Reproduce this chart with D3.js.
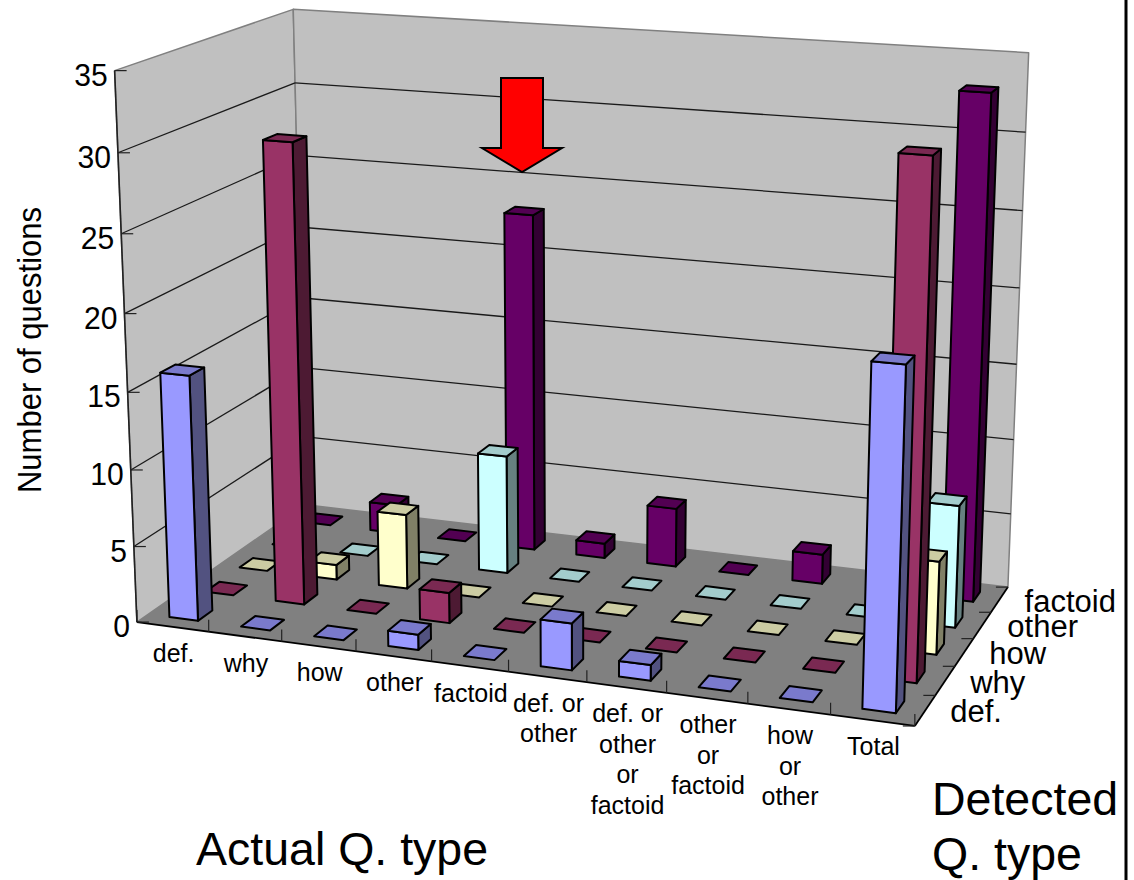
<!DOCTYPE html>
<html>
<head>
<meta charset="utf-8">
<script src="https://cdn.jsdelivr.net/npm/d3@7"></script>
<style>
  html, body { margin: 0; background: #fff; }
  svg { display: block; }
  text { font-family: "Liberation Sans", Arial, sans-serif; fill: #000; }
</style>
</head>
<body>
<div id="chart"></div>
<script>
// Chart data.
const actualTypes = [
    ['def.'], ['why'], ['how'], ['other'], ['factoid'],
    ['def. or', 'other'], ['def. or', 'other', 'or', 'factoid'],
    ['other', 'or', 'factoid'], ['how', 'or', 'other'], ['Total']
];
const detectedTypes = ['def.', 'why', 'how', 'other', 'factoid'];
const defValues = [16, 0, 0, 1, 0, 3, 1, 0, 0, 21];
const whyValues = [0, 30, 0, 2, 0, 0, 0, 0, 0, 32];
const howValues = [0, 1, 5, 0, 0, 0, 0, 0, 0, 6];
const otherValues = [0, 0, 0, 8, 0, 0, 0, 0, 0, 8];
const factoidValues = [0, 2, 0, 23, 1, 4, 0, 2, 1, 33];
const seriesValues = [defValues, whyValues, howValues, otherValues, factoidValues];
const yTicks = [0, 5, 10, 15, 20, 25, 30, 35];

// Face colours per series: front, top, side.
const seriesColours = [
    ['#9999ff', '#7a7acc', '#525280'],
    ['#993366', '#7a2952', '#4d1a33'],
    ['#ffffcc', '#ccccA3', '#808066'],
    ['#ccffff', '#a3cccc', '#668080'],
    ['#660066', '#520052', '#330033']
];

const width = 1134, height = 880;
const svg = d3.select('#chart').append('svg').attr('width', width).attr('height', height);

// Unit scales for the three chart directions; gap width 150% on both band scales.
const x = d3.scaleBand().domain(d3.range(actualTypes.length)).range([0, 1]).paddingInner(0.6).paddingOuter(0.3);
const z = d3.scaleBand().domain(d3.range(detectedTypes.length)).range([0, 1]).paddingInner(0.6).paddingOuter(0.3);
const y = d3.scaleLinear().domain([0, 35]).range([0, 1]);

// D3 has no 3D projection, so fit one from where the chart box sits on the page.
const anchors = [
    [0, 0, 0, 137, 622], [1, 0, 0, 915, 726], [1, 1, 0, 1008, 587], [0, 1, 0, 305, 505],
    [0, 0, 1, 114, 71], [0, 1, 1, 293, 9], [1, 1, 1, 1029, 52],
    [0, 0, 15 / 35, 128, 392], [1, 1, 30 / 35, 1025, 133], [0, 1, 30 / 35, 296, 83]
];

function fitProjection(points) {
    const rows = [], rhs = [];
    points.forEach(([a, b, c, px, py]) => {
        rows.push([a, b, c, 1, 0, 0, 0, 0, -px * a, -px * b, -px * c]); rhs.push(px);
        rows.push([0, 0, 0, 0, a, b, c, 1, -py * a, -py * b, -py * c]); rhs.push(py);
    });
    const n = 11;
    const m = d3.range(n).map(i => d3.range(n).map(j => d3.sum(rows, r => r[i] * r[j])).concat(d3.sum(rows, (r, k) => r[i] * rhs[k])));
    for (let i = 0; i < n; i++) {
        let best = i;
        for (let k = i + 1; k < n; k++) if (Math.abs(m[k][i]) > Math.abs(m[best][i])) best = k;
        [m[i], m[best]] = [m[best], m[i]];
        for (let k = 0; k < n; k++) {
            if (k === i) continue;
            const f = m[k][i] / m[i][i];
            for (let j = i; j <= n; j++) m[k][j] -= f * m[i][j];
        }
    }
    return m.map((r, i) => r[n] / r[i]);
}
const P = fitProjection(anchors);
const project = (a, b, c) => {
    const d = P[8] * a + P[9] * b + P[10] * c + 1;
    return [(P[0] * a + P[1] * b + P[2] * c + P[3]) / d, (P[4] * a + P[5] * b + P[6] * c + P[7]) / d];
};

const poly = (g, corners, fill, stroke, sw) => g.append('polygon')
    .attr('points', corners.map(c => project(...c).join(',')).join(' '))
    .attr('fill', fill)
    .attr('stroke', stroke)
    .attr('stroke-width', sw)
    .attr('stroke-linejoin', 'round');
const seg = (g, p, q, stroke, sw) => g.append('line')
    .attr('x1', p[0]).attr('y1', p[1]).attr('x2', q[0]).attr('y2', q[1])
    .attr('stroke', stroke).attr('stroke-width', sw);

// Walls and floor.
const box = svg.append('g');
poly(box, [[0, 0, 0], [0, 1, 0], [0, 1, 1], [0, 0, 1]], '#c0c0c0', '#808080', 1.5);
poly(box, [[0, 1, 0], [1, 1, 0], [1, 1, 1], [0, 1, 1]], '#c0c0c0', '#808080', 1.5);
poly(box, [[0, 0, 0], [1, 0, 0], [1, 1, 0], [0, 1, 0]], '#808080', 'none', 0);

// Gridlines across both walls and the tick marks.
const axes = svg.append('g');
yTicks.filter(v => v > 0 && v < 35).forEach(v => {
    seg(axes, project(0, 0, y(v)), project(0, 1, y(v)), '#1a1a1a', 1.3);
    seg(axes, project(0, 1, y(v)), project(1, 1, y(v)), '#1a1a1a', 1.3);
});
seg(axes, project(0, 0, 0), project(0, 0, 1), '#222', 1.6);
seg(axes, project(0, 0, 0), project(1, 0, 0), '#000', 1.8);
seg(axes, project(1, 0, 0), project(1, 1, 0), '#000', 1.8);
yTicks.forEach(v => {
    const p = project(0, 0, y(v));
    seg(axes, p, [p[0] + 12, p[1]], '#222', 1.2);
    // The original text is slightly condensed.
    axes.append('text')
        .attr('transform', `translate(${p[0] - 7},${p[1] + 15}) scale(0.94,1)`)
        .attr('text-anchor', 'end').attr('font-size', 32)
        .text(v);
});
d3.range(actualTypes.length + 1).forEach(i => {
    const p = project(i / actualTypes.length, 0, 0);
    seg(axes, p, [p[0], p[1] - 12], '#222', 1.2);
});
d3.range(detectedTypes.length + 1).forEach(j => {
    const p = project(1, j / detectedTypes.length, 0);
    seg(axes, p, [p[0] - 12, p[1]], '#222', 1.2);
});

// Bars, painted from the back row forward and left to right so the nearer ones cover the rest.
const bars = svg.append('g');
d3.range(detectedTypes.length).reverse().forEach(j => {
    const z0 = z(j), z1 = z0 + z.bandwidth();
    const [front, top, side] = seriesColours[j];
    seriesValues[j].forEach((value, i) => {
        const x0 = x(i), x1 = x0 + x.bandwidth(), h = y(value);
        const g = bars.append('g');
        if (value > 0) {
            poly(g, [[x1, z0, 0], [x1, z1, 0], [x1, z1, h], [x1, z0, h]], side, '#000', 2);
            poly(g, [[x0, z0, 0], [x1, z0, 0], [x1, z0, h], [x0, z0, h]], front, '#000', 2);
        }
        poly(g, [[x0, z0, h], [x1, z0, h], [x1, z1, h], [x0, z1, h]], top, '#000', 2);
    });
});

// Category labels under the front edge.
const labels = svg.append('g');
actualTypes.forEach((lines, i) => {
    const p = project(x(i) + x.bandwidth() / 2, 0, 0);
    lines.forEach((line, k) => {
        labels.append('text')
            .attr('x', p[0] + 1).attr('y', p[1] + 35 + k * 30.5)
            .attr('text-anchor', 'middle').attr('font-size', 25)
            .text(line);
    });
});

// Series labels beside the right edge.
detectedTypes.forEach((label, j) => {
    const p = project(1, z(j) + z.bandwidth() / 2, 0);
    labels.append('text')
        .attr('x', p[0] + 25).attr('y', p[1] + 12)
        .attr('font-size', 31)
        .text(label);
});

// Axis titles.
labels.append('text')
    .attr('transform', 'translate(41,350) rotate(-90) scale(0.94,1)')
    .attr('text-anchor', 'middle').attr('font-size', 33)
    .text('Number of questions');
labels.append('text').attr('x', 196).attr('y', 865).attr('font-size', 46.5).text('Actual Q. type');
labels.append('text').attr('x', 932).attr('y', 815).attr('font-size', 46.5).text('Detected');
labels.append('text').attr('x', 932).attr('y', 870).attr('font-size', 46.5).text('Q. type');

// Red arrow pointing at the tall factoid bar.
const arrow = { cx: 522, top: 78, neck: 148, tip: 172, body: 21, head: 40 };
svg.append('polygon')
    .attr('points', [
        [arrow.cx - arrow.body, arrow.top], [arrow.cx + arrow.body, arrow.top],
        [arrow.cx + arrow.body, arrow.neck], [arrow.cx + arrow.head, arrow.neck],
        [arrow.cx, arrow.tip], [arrow.cx - arrow.head, arrow.neck],
        [arrow.cx - arrow.body, arrow.neck]
    ].join(' '))
    .attr('fill', '#ff0000').attr('stroke', '#000').attr('stroke-width', 2);

// Slide border on the right.
svg.append('line')
    .attr('x1', 1126).attr('x2', 1126).attr('y1', 0).attr('y2', height)
    .attr('stroke', '#000').attr('stroke-width', 3);
</script>
</body>
</html>
